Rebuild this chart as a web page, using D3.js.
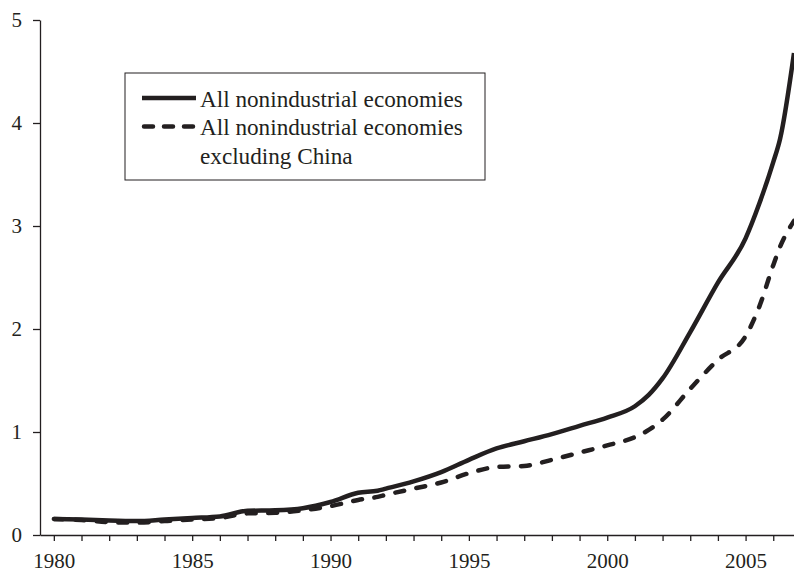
<!DOCTYPE html>
<html>
<head>
<meta charset="utf-8">
<script src="https://cdn.jsdelivr.net/npm/d3@7"></script>
<style>
  body { margin: 0; background: #fff; }
  svg { display: block; }
  text { font-family: "Liberation Serif", "Times New Roman", serif; fill: #231f20; }
  .axis path, .axis line { stroke: #231f20; stroke-width: 1.3; }
</style>
</head>
<body>
<svg width="794" height="574"></svg>
<script>
// series (year, value)
var years = [1980, 1981, 1982, 1983, 1984, 1985, 1986, 1987, 1988, 1989, 1990, 1991, 1991.7, 1992,
    1993, 1994, 1995, 1996, 1997, 1998, 1999, 2000, 2001, 2001.5, 2002, 2003, 2004, 2005, 2005.5,
    2006, 2006.25, 2006.75];
var allEconomies = [0.155, 0.15, 0.14, 0.135, 0.15, 0.165, 0.18, 0.235, 0.24, 0.26, 0.32, 0.41, 0.43, 0.45,
    0.52, 0.61, 0.73, 0.84, 0.91, 0.98, 1.06, 1.14, 1.25, 1.36, 1.52, 1.97, 2.45, 2.88, 3.22,
    3.62, 3.85, 4.68];
var exChina = [0.155, 0.145, 0.125, 0.12, 0.135, 0.15, 0.165, 0.21, 0.215, 0.24, 0.28, 0.34, 0.37, 0.39,
    0.45, 0.51, 0.60, 0.66, 0.67, 0.73, 0.80, 0.87, 0.95, 1.02, 1.12, 1.42, 1.70, 1.93, 2.22,
    2.62, 2.80, 3.05];
var legendLabels = [["All nonindustrial economies"], ["All nonindustrial economies", "excluding China"]];
var yTicks = [0, 1, 2, 3, 4, 5];
var labelYears = [1980, 1985, 1990, 1995, 2000, 2005];

var svg = d3.select("svg"),
    margin = {top: 20, right: 0, bottom: 39, left: 40},
    width = +svg.attr("width"),
    height = +svg.attr("height");

var x = d3.scaleLinear().domain([1979.5, 2006.75]).range([margin.left, width - margin.right]),
    y = d3.scaleLinear().domain([0, 5]).range([height - margin.bottom, margin.top]);

var series = [
    {id: "all", dash: null, values: years.map(function(d, i) { return {year: d, value: allEconomies[i]}; })},
    {id: "exChina", dash: "9 12.5", values: years.map(function(d, i) { return {year: d, value: exChina[i]}; })}
];

var line = d3.line()
    .curve(d3.curveMonotoneX)
    .x(function(d) { return x(d.year); })
    .y(function(d) { return y(d.value); });

svg.append("g")
    .attr("class", "axis")
    .attr("transform", "translate(0," + y(0) + ")")
    .call(d3.axisBottom(x)
        .tickValues(d3.range(1980, 2007))
        .tickSize(6)
        .tickSizeOuter(0)
        .tickPadding(12)
        .tickFormat(function(d) { return labelYears.indexOf(d) >= 0 ? d : ""; }))
    .call(function(g) { g.selectAll("text").style("font-size", "21px").attr("fill", "#231f20"); });

svg.append("g")
    .attr("class", "axis")
    .attr("transform", "translate(" + margin.left + ",0)")
    .call(d3.axisLeft(y)
        .tickValues(yTicks)
        .tickSize(7)
        .tickSizeOuter(0)
        .tickPadding(11)
        .tickFormat(d3.format("d")))
    .call(function(g) { g.selectAll("text").style("font-size", "21px").attr("fill", "#231f20"); });

svg.selectAll(".series")
    .data(series.slice().reverse())
    .enter().append("path")
    .attr("class", "series")
    .attr("d", function(d) { return line(d.values); })
    .attr("fill", "none")
    .attr("stroke", "#231f20")
    .attr("stroke-width", 4.5)
    .attr("stroke-linecap", function(d) { return d.dash ? "round" : "butt"; })
    .attr("stroke-linejoin", "round")
    .attr("stroke-dasharray", function(d) { return d.dash; });

// legend
var legend = svg.append("g").attr("transform", "translate(125,73)");

legend.append("rect")
    .attr("width", 360)
    .attr("height", 107)
    .attr("fill", "#fff")
    .attr("stroke", "#231f20")
    .attr("stroke-width", 1);

var item = legend.selectAll(".item")
    .data(series)
    .enter().append("g")
    .attr("class", "item")
    .attr("transform", function(d, i) { return "translate(0," + (25 + i * 28.5) + ")"; });

item.append("line")
    .attr("x1", function(d) { return d.dash ? 19 : 17; })
    .attr("x2", 71)
    .attr("stroke", "#231f20")
    .attr("stroke-width", 4.5)
    .attr("stroke-linecap", function(d) { return d.dash ? "round" : "butt"; })
    .attr("stroke-dasharray", function(d) { return d.dash ? "9 11" : null; });

item.append("text")
    .attr("x", 75)
    .attr("y", 8.5)
    .style("font-size", "23.2px")
    .selectAll("tspan")
    .data(function(d, i) { return legendLabels[i]; })
    .enter().append("tspan")
    .attr("x", 75)
    .attr("dy", function(d, j) { return j ? 28.5 : 0; })
    .text(function(d) { return d; });
</script>
</body>
</html>
